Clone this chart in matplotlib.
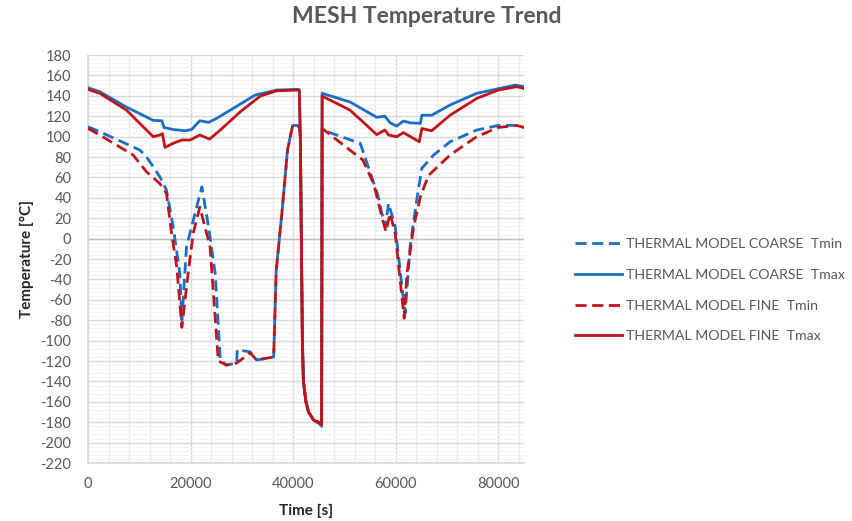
import numpy as np
import matplotlib
matplotlib.use("Agg")
import matplotlib.pyplot as plt
from matplotlib.ticker import MultipleLocator

plt.rcParams["font.family"] = ["Lato", "DejaVu Sans"]
plt.rcParams["axes.unicode_minus"] = False

# time [s] / temperature [degC]
coarse_tmax_t = [0, 2300, 7500, 12700, 14400, 14800, 16600, 18900, 20200, 21800, 23500, 25100,
                 28300, 32600, 36800, 40700, 41200, 41400, 41600, 41800, 42000, 42500, 43000,
                 44000, 45000, 45550, 45650, 51100, 56300, 57900, 58900, 60200, 61500, 62800,
                 64800, 65100, 67000, 70600, 75800, 80000, 83300, 85000]
coarse_tmax = [148, 144, 129, 116, 115.6, 109, 107, 105.8, 107, 115.6, 114, 118,
               127.7, 140.8, 145.7, 146.4, 146, 100, 0, -100, -140, -160, -170,
               -178, -181, -184, 142.5, 134, 119, 120, 113.6, 110.4, 115.3, 113.6,
               113, 121, 121, 131, 142.5, 147, 150.6, 149]

fine_tmax_t = [0, 2300, 7500, 12700, 14000, 14500, 15000, 16600, 18300, 19900, 21800, 23700,
               25800, 29700, 32600, 33600, 36800, 41000, 41200, 41400, 41600, 41800, 42000,
               42500, 43000, 44000, 45000, 45550, 45650, 51100, 56300, 57900, 58600, 60200,
               61500, 64600, 65100, 67000, 70600, 75800, 80000, 83600, 85000]
fine_tmax = [146.4, 142.5, 126, 100, 101.6, 103, 89.5, 93.4, 96.7, 96.7, 101.6, 97.6,
             106.5, 124.4, 135.9, 139.8, 145, 145.7, 145, 100, 0, -100, -140,
             -160, -170, -178, -180, -182, 139.8, 126, 102, 106.5, 101.6, 100,
             104, 95, 108, 105.8, 121, 137.5, 145.7, 149, 147.3]

coarse_tmin_t = [0, 2300, 10100, 11400, 14000, 15300, 16600, 17900, 18300, 19200, 20200, 22200,
                 23500, 24800, 25800, 27000, 29000, 29100, 31600, 32900, 36200, 36700, 37800,
                 38900, 39900, 41000, 41200, 41400, 41600, 41800, 42000, 42500, 43000, 44000,
                 45000, 45550, 45650, 48500, 53100, 55300, 56600, 57300, 58000, 58600, 59900,
                 61500, 61850, 62800, 64100, 65100, 67400, 70600, 75800, 80000, 83600, 85000]
coarse_tmin = [109.7, 104.8, 86.9, 80.3, 60.7, 47.6, 11.7, -34, -80, -8, 11.7, 50.9,
               11.7, -34, -119, -124, -122, -109, -111, -119, -116, -31, 24.8,
               86.9, 111, 111, 110, 100, 0, -100, -140, -160, -170, -178,
               -181, -184, 106.5, 101.6, 93.4, 60.7, 41, 24.8, 11.7, 34.6, 11.7,
               -60, -73, -8, 37.8, 69, 82, 95, 106.5, 111, 111, 109]

fine_tmin_t = [0, 2300, 8800, 11400, 14000, 15300, 16300, 17300, 18300, 19500, 20500, 21800,
               23800, 25400, 27000, 29000, 31600, 32900, 36200, 36700, 37800, 38900, 39900,
               41000, 41200, 41400, 41600, 41800, 42000, 42500, 43000, 44000, 45000, 45550,
               45650, 53600, 55700, 57300, 58100, 58900, 59900, 61650, 62200, 63500, 64800,
               66400, 70600, 75800, 80000, 83600, 85000]
fine_tmin = [108, 101.6, 82, 65.6, 54, 44.4, 5.2, -27.5, -87, -35, 5, 31,
             -8, -120, -124, -122, -112, -119, -116, -31, 24.8, 86.9, 111,
             110, 109, 100, 0, -100, -140, -160, -170, -178, -180, -182,
             108, 77, 54, 21.5, 6.8, 24.8, 5, -78, -34, 11.7, 41,
             62, 82, 100, 109, 111, 109]

labels = ["THERMAL MODEL COARSE  Tmin", "THERMAL MODEL COARSE  Tmax",
          "THERMAL MODEL FINE  Tmin", "THERMAL MODEL FINE  Tmax"]

blue = "#1B6FC4"
red = "#C0141B"
gray = "#595959"

fig = plt.figure(figsize=(8.53, 5.21), dpi=100)
ax = fig.add_axes([0.1032, 0.1113, 0.511, 0.783])

dash = (0, (4, 2))
ax.plot(coarse_tmin_t, coarse_tmin, color=blue, lw=2.0, linestyle=dash, label=labels[0], zorder=3)
ax.plot(coarse_tmax_t, coarse_tmax, color=blue, lw=2.0, label=labels[1], zorder=3)
ax.plot(fine_tmin_t, fine_tmin, color=red, lw=2.0, linestyle=dash, label=labels[2], zorder=4)
ax.plot(fine_tmax_t, fine_tmax, color=red, lw=2.0, label=labels[3], zorder=4)

ax.set_xlim(0, 85000)
ax.set_ylim(-220, 180)
ax.xaxis.set_major_locator(MultipleLocator(20000))
ax.xaxis.set_minor_locator(MultipleLocator(4000))
ax.yaxis.set_major_locator(MultipleLocator(20))
ax.yaxis.set_minor_locator(MultipleLocator(4))

ax.grid(True, which="major", color="#D9D9D9", lw=1.0, zorder=0)
ax.grid(True, which="minor", axis="x", color="#EAEAEA", lw=1.0, zorder=0)
ax.grid(True, which="minor", axis="y", color="#F3F3F3", lw=0.8, zorder=0)
ax.axhline(0, color="#BFBFBF", lw=1.0, zorder=1)
ax.set_axisbelow(True)

for side in ["top", "right"]:
    ax.spines[side].set_visible(False)
for side in ["left", "bottom"]:
    ax.spines[side].set_color("#D9D9D9")
    ax.spines[side].set_linewidth(1.2)

ax.tick_params(which="both", length=0, colors=gray, labelsize=10.5)
ax.tick_params(axis="y", pad=12)
ax.tick_params(axis="x", pad=10)

ax.set_xlabel("Time [s]", fontsize=11, fontweight="bold", color="#262626", labelpad=9)
ax.set_ylabel("Temperature [°C]", fontsize=11, fontweight="bold", color="#262626", labelpad=5)
fig.suptitle("MESH Temperature Trend", x=0.5, y=0.988, fontsize=16.5, fontweight="bold", color=gray)

leg = fig.legend(loc="upper left", bbox_to_anchor=(0.659, 0.568), frameon=False,
                 fontsize=10.2, handlelength=3.3, labelspacing=1.33, handletextpad=0.3)
for t in leg.get_texts():
    t.set_color(gray)

fig.savefig("out.png", dpi=100)
